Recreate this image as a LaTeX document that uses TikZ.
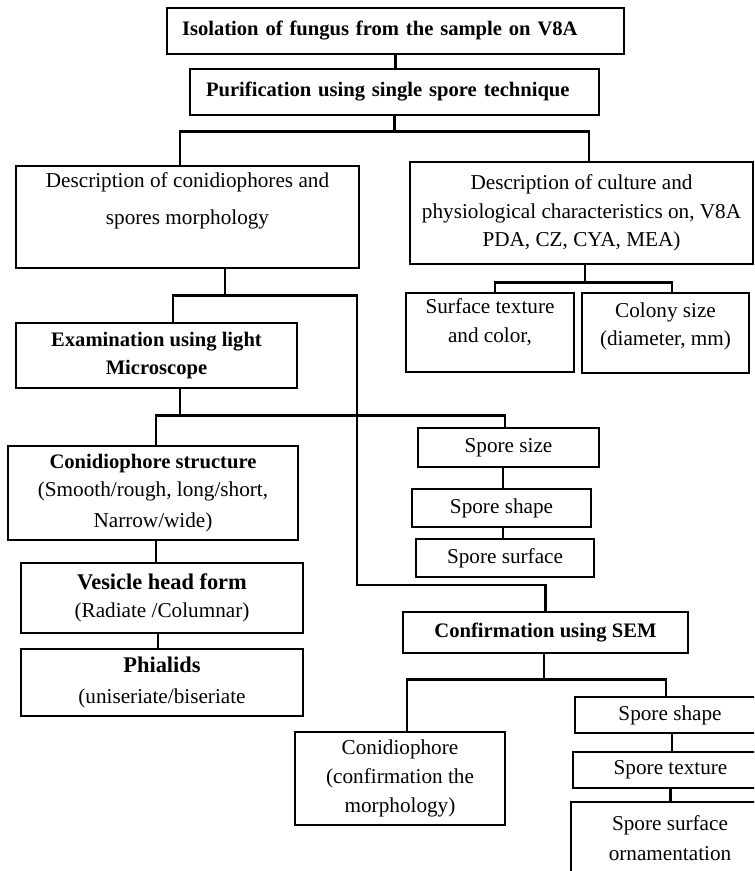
\documentclass[tikz,border=0pt]{standalone}
\usepackage{fontspec}
\setmainfont{Liberation Serif}
\usepackage{tikz}
\usetikzlibrary{calc}
\newcommand{\boxhead}[1]{{\fontsize{10.3}{14.3}\selectfont\bfseries #1}}
\newcommand{\bighead}[1]{{\fontsize{11.2}{14.3}\selectfont\bfseries #1}}

\begin{document}
\begin{tikzpicture}[
  x=0.5pt, y=-0.5pt,
  font=\fontsize{10.6}{14.3}\selectfont,
  box/.style={draw, line width=0.65pt, align=center, inner sep=2pt},
  headbox/.style={box, align=left, inner xsep=7.5pt, font=\fontsize{10.3}{14.3}\selectfont\bfseries},
  link/.style={line width=1.3pt}
]
\useasboundingbox (0,0) rectangle (754,871);
\clip (0,0) rectangle (754,871);

% top chain
\node[headbox, text width=213.5pt, minimum height=23pt] (isol) at (395.5,31) {Isolation of fungus from the sample on V8A};
\node[headbox, text width=188.5pt, inner xsep=8pt, minimum height=23pt] (puri) at (394.5,92) {Purification using single spore technique};

% two descriptions
\node[box, minimum width=171.5pt, minimum height=51pt] (dconid) at (187.5,217) {Description of conidiophores and\\[4.2pt] spores morphology\\[4pt]\mbox{}};
\node[box, minimum width=171.5pt, minimum height=51pt] (dcult) at (581.5,213) {Description of culture and\\physiological characteristics on, V8A\\PDA, CZ, CYA, MEA)};
\node[box, minimum width=84pt, minimum height=39.5pt] (surf) at (490,332.5) {Surface texture\\and color,\\[-2.5pt]\mbox{}};
\node[box, minimum width=83.5pt, minimum height=40pt] (colony) at (665.5,333) {Colony size\\(diameter, mm)\\[-5.5pt]\mbox{}};

% light microscope branch
\node[box, minimum width=140.5pt, minimum height=32.5pt] (exam) at (156.5,355.5) {\boxhead{Examination using light}\\\boxhead{Microscope}};
\node[box, minimum width=145pt, minimum height=47pt] (cstruct) at (153,493) {\boxhead{Conidiophore structure}\\(Smooth/rough, long/short,\\[1pt] Narrow/wide)};
\node[box, minimum width=141pt, minimum height=35pt] (vesicle) at (162,598) {\bighead{Vesicle head form}\\(Radiate /Columnar)};
\node[box, minimum width=141pt, minimum height=33.5pt] (phial) at (162,682.5) {\bighead{Phialids}\\[1pt](uniseriate/biseriate};
\node[box, minimum width=90.5pt, minimum height=19.5pt] (ssize) at (508.5,447.5) {Spore size};
\node[box, minimum width=89.5pt, minimum height=19pt] (sshape) at (501.5,508) {Spore shape};
\node[box, minimum width=89pt, minimum height=19pt] (ssurf) at (505,558) {Spore surface};

% SEM branch
\node[box, minimum width=142.5pt, minimum height=20.5pt] (sem) at (545.5,632.5) {\boxhead{Confirmation using SEM}};
\node[box, minimum width=105pt, minimum height=46.5pt] (semcon) at (400,778.5) {Conidiophore\\(confirmation the\\morphology)};
\node[box, minimum width=95pt, minimum height=18pt] (sshape2) at (670,715) {Spore shape};
\node[box, minimum width=97.5pt, minimum height=18pt] (stext) at (670.5,770) {Spore texture};
\node[box, minimum width=99pt, minimum height=36pt] (sorn) at (670,838) {Spore surface\\[0.7pt] ornamentation};

% connectors
\draw[link] (isol.south) -- (isol.south |- puri.north);
\draw[link] (puri.south) -- ++(0,16) coordinate (j1);
\draw[link] ($(dconid.north)+(-7.5,0)$) |- (j1) -| ($(dcult.north)+(7.5,0)$);

\draw[link] ($(dcult.south)+(3.5,0)$) -- ++(0,18) coordinate (j2);
\draw[link] ($(surf.north)+(5,0)$) |- (j2) -| ($(colony.north)+(6.5,0)$);

\draw[link] ($(dconid.south)+(37.5,0)$) -- ++(0,27) coordinate (j3);
\coordinate (bend) at (357,585);
\draw[link] ($(exam.north)+(16.5,0)$) |- (j3) -| (bend) -| (sem.north);

\draw[link] ($(exam.south)+(23.5,0)$) -- ++(0,27) coordinate (j4);
\draw[link] ($(cstruct.north)+(3,0)$) |- (j4) -| ($(ssize.north)+(-3.5,0)$);
\draw[link] ($(cstruct.south)+(3,0)$) -- ($(vesicle.north)+(-6,0)$);
\draw[link] ($(vesicle.south)+(-4,0)$) -- ($(phial.north)+(-4,0)$);
\draw[link] ($(ssize.south)+(-5.5,0)$) -- ($(sshape.north)+(1.5,0)$);
\draw[link] ($(sshape.south)+(1.5,0)$) -- ($(ssurf.north)+(-2,0)$);

\draw[link] ($(sem.south)+(-1.5,0)$) -- ++(0,26) coordinate (j5);
\draw[link] ($(semcon.north)+(7,0)$) |- (j5) -| ($(sshape2.north)+(-4,0)$);
\draw[link] ($(sshape2.south)+(2,0)$) -- ($(stext.north)+(1.5,0)$);
\draw[link] (stext.south) -- (stext.south |- sorn.north);
\end{tikzpicture}
\end{document}
